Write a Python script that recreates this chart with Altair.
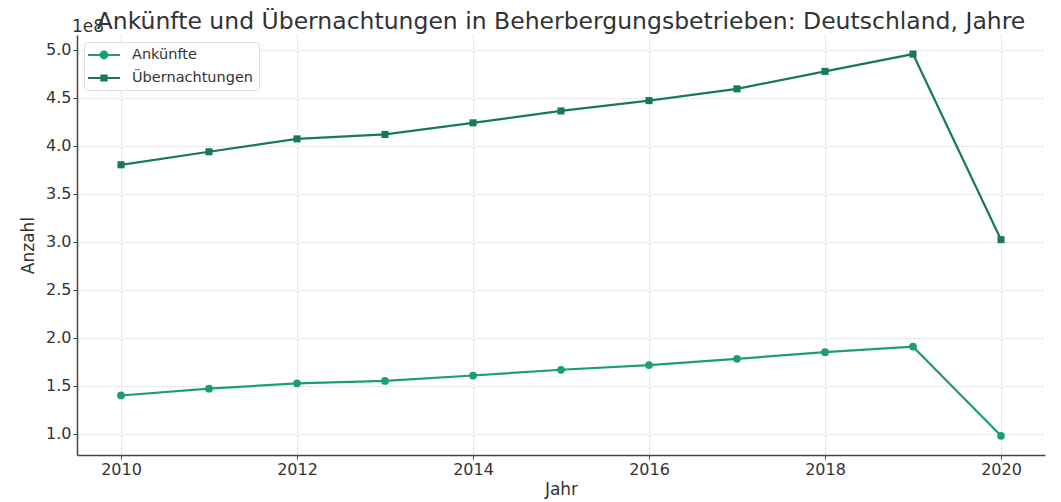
import altair as alt
import pandas as pd

years = [2010, 2011, 2012, 2013, 2014, 2015, 2016, 2017, 2018, 2019, 2020]
ankuenfte = [140.0e6, 147.1e6, 152.7e6, 155.2e6, 160.8e6, 166.8e6, 171.7e6, 178.2e6, 185.1e6, 190.9e6, 98.0e6]
uebernachtungen = [380.3e6, 393.9e6, 407.3e6, 411.9e6, 424.0e6, 436.4e6, 447.2e6, 459.4e6, 477.6e6, 495.6e6, 302.3e6]
series_names = ["Ankünfte", "Übernachtungen"]
series_colors = ["#1b9e77", "#17795a"]
series_shapes = ["circle", "square"]
series_sizes = [60, 50]
x_ticks = [2010, 2012, 2014, 2016, 2018, 2020]
y_ticks = [1.0e8, 1.5e8, 2.0e8, 2.5e8, 3.0e8, 3.5e8, 4.0e8, 4.5e8, 5.0e8]

rows = []
for y, a, u in zip(years, ankuenfte, uebernachtungen):
    rows.append({"Jahr": y, "Wert": a, "Serie": series_names[0]})
    rows.append({"Jahr": y, "Wert": u, "Serie": series_names[1]})
df = pd.DataFrame(rows)

FONT = "DejaVu Sans"
W, H = 968, 420

axis_common = dict(grid=True, gridDash=[2, 2], gridColor="#d4d4d4",
                   labelFontSize=16, titleFontSize=17,
                   labelColor="#333", titleColor="#333",
                   domainColor="#444", domainWidth=1.5,
                   tickColor="#444", tickSize=4, labelPadding=2)

x_enc = alt.X("Jahr:Q",
              scale=alt.Scale(domain=[2009.5, 2020.5], nice=False, zero=False),
              axis=alt.Axis(values=x_ticks, format="d", title="Jahr",
                            titlePadding=4, labelFlush=False, **axis_common))
y_enc = alt.Y("Wert:Q",
              scale=alt.Scale(domain=[0.78e8, 5.155e8], nice=False, zero=False),
              axis=alt.Axis(values=y_ticks, title="Anzahl",
                            labelExpr="format(datum.value / 1e8, '.1f')",
                            titlePadding=8, **axis_common))

base = alt.Chart(df)

layers = []
for name, col, shp, sz in zip(series_names, series_colors, series_shapes, series_sizes):
    sub = base.transform_filter(alt.datum.Serie == name)
    layers.append(sub.mark_line(strokeWidth=2.2, color=col).encode(x=x_enc, y=y_enc))
    layers.append(sub.mark_point(shape=shp, filled=True, size=sz, opacity=1, color=col)
                  .encode(x="Jahr:Q", y="Wert:Q"))

# legend symbols: line with marker (custom paths, unit = 8px)
line_circle = ("M-2,-0.13H2V0.13H-2Z "
               "M-0.55,0A0.55,0.55 0 1,1 0.55,0A0.55,0.55 0 1,1 -0.55,0Z")
line_square = ("M-2,-0.13H2V0.13H-2Z "
               "M-0.45,-0.45H0.45V0.45H-0.45Z")

legend_props = dict(title=None, orient="top-left", offset=7,
                    labelFontSize=14.5, labelColor="#333", labelFont=FONT,
                    fillColor="white", strokeColor="#dddddd",
                    cornerRadius=4, padding=5, rowPadding=8,
                    symbolSize=256, symbolStrokeWidth=0,
                    symbolOffset=7, labelOffset=20)

legend_layer = base.transform_filter(alt.datum.Jahr > 3000).mark_point(
    filled=True, size=256, opacity=1, strokeWidth=0).encode(
    x="Jahr:Q", y="Wert:Q",
    color=alt.Color("Serie:N",
                    scale=alt.Scale(domain=series_names, range=series_colors),
                    legend=alt.Legend(**legend_props)),
    shape=alt.Shape("Serie:N",
                    scale=alt.Scale(domain=series_names,
                                    range=[line_circle, line_square]),
                    legend=alt.Legend(**legend_props)),
)
layers.append(legend_layer)

offset_text = alt.Chart(pd.DataFrame({"t": ["1e8"]})).mark_text(
    align="left", baseline="alphabetic", fontSize=17, color="#333", font=FONT
).encode(text="t:N", x=alt.value(-5), y=alt.value(-3))
layers.append(offset_text)

chart = alt.layer(*layers).properties(
    width=W, height=H,
    title=alt.Title("Ankünfte und Übernachtungen in Beherbergungsbetrieben: Deutschland, Jahre",
                    fontSize=23.5, font=FONT, fontWeight="normal", color="#333",
                    anchor="middle", frame="group", offset=0, dy=15),
    autosize=alt.AutoSizeParams(type="none"),
    padding={"left": 69, "top": 27, "right": 8, "bottom": 45},
).configure(font=FONT).configure_view(stroke=None).configure_axis(
    labelFont=FONT, titleFont=FONT, titleFontWeight="normal")

chart.save("out.html", embed_options={"renderer": "svg", "actions": False})
